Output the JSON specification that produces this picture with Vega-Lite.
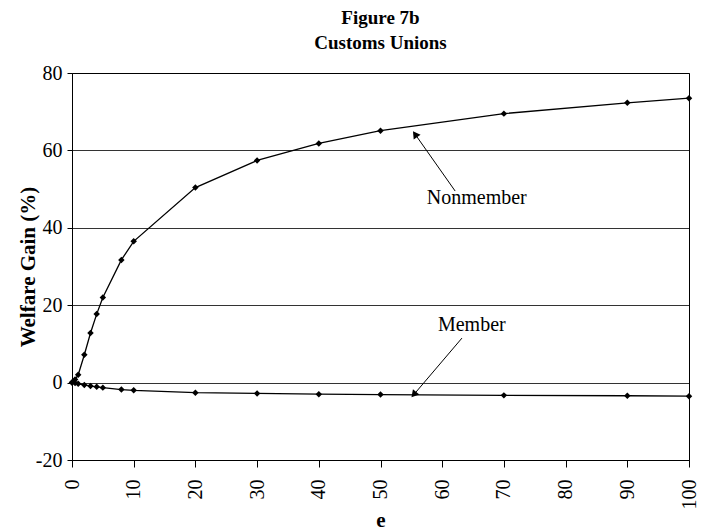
{
  "$schema": "https://vega.github.io/schema/vega-lite/v6.json",
  "autosize": "none",
  "width": 617,
  "height": 387,
  "padding": {"left": 72, "top": 73, "right": 23, "bottom": 71},
  "background": "white",
  "title": {
    "text": ["Figure 7b", "Customs Unions"],
    "font": "Liberation Serif",
    "fontSize": 19,
    "fontWeight": "bold",
    "lineHeight": 25,
    "anchor": "middle",
    "frame": "group",
    "offset": 10,
    "color": "black"
  },
  "config": {
    "view": {"stroke": "black", "strokeWidth": 1},
    "font": "Liberation Serif"
  },
  "datasets": {
    "series": [
      {"e": 0, "gain": 0, "series": "Nonmember"},
      {"e": 0.5, "gain": 0.8, "series": "Nonmember"},
      {"e": 1, "gain": 2.0, "series": "Nonmember"},
      {"e": 2, "gain": 7.2, "series": "Nonmember"},
      {"e": 3, "gain": 12.8, "series": "Nonmember"},
      {"e": 4, "gain": 17.7, "series": "Nonmember"},
      {"e": 5, "gain": 22.0, "series": "Nonmember"},
      {"e": 8, "gain": 31.7, "series": "Nonmember"},
      {"e": 10, "gain": 36.5, "series": "Nonmember"},
      {"e": 20, "gain": 50.4, "series": "Nonmember"},
      {"e": 30, "gain": 57.4, "series": "Nonmember"},
      {"e": 40, "gain": 61.8, "series": "Nonmember"},
      {"e": 50, "gain": 65.1, "series": "Nonmember"},
      {"e": 70, "gain": 69.5, "series": "Nonmember"},
      {"e": 90, "gain": 72.3, "series": "Nonmember"},
      {"e": 100, "gain": 73.5, "series": "Nonmember"},
      {"e": 0, "gain": 0, "series": "Member"},
      {"e": 0.5, "gain": -0.1, "series": "Member"},
      {"e": 1, "gain": -0.3, "series": "Member"},
      {"e": 2, "gain": -0.6, "series": "Member"},
      {"e": 3, "gain": -0.9, "series": "Member"},
      {"e": 4, "gain": -1.1, "series": "Member"},
      {"e": 5, "gain": -1.3, "series": "Member"},
      {"e": 8, "gain": -1.8, "series": "Member"},
      {"e": 10, "gain": -2.0, "series": "Member"},
      {"e": 20, "gain": -2.6, "series": "Member"},
      {"e": 30, "gain": -2.8, "series": "Member"},
      {"e": 40, "gain": -3.0, "series": "Member"},
      {"e": 50, "gain": -3.1, "series": "Member"},
      {"e": 70, "gain": -3.3, "series": "Member"},
      {"e": 90, "gain": -3.4, "series": "Member"},
      {"e": 100, "gain": -3.5, "series": "Member"}
    ],
    "labels": [
      {"e": 65.6, "gain": 47.8, "label": "Nonmember"},
      {"e": 64.8, "gain": 15.0, "label": "Member"}
    ],
    "arrows": [
      {"e": 62.1, "gain": 49.5, "e2": 55.6, "gain2": 64.2, "angle": 325},
      {"e": 63.2, "gain": 11.5, "e2": 55.4, "gain2": -3.1, "angle": 220}
    ]
  },
  "layer": [
    {
      "data": {"name": "series"},
      "mark": {"type": "line", "color": "black", "strokeWidth": 1.3,
               "point": {"filled": true, "shape": "diamond", "size": 42, "color": "black"}},
      "encoding": {
        "x": {"field": "e", "type": "quantitative",
              "scale": {"domain": [0, 100], "nice": false},
              "axis": {"title": "e", "values": [0,10,20,30,40,50,60,70,80,90,100],
                       "grid": false, "labelAngle": 270, "labelAlign": "right", "labelBaseline": "middle",
                       "labelFontSize": 20, "labelFont": "Liberation Serif", "labelColor": "black",
                       "titleFontSize": 21, "titleFont": "Liberation Serif", "titleFontWeight": "bold", "titleColor": "black",
                       "titlePadding": 0, "labelPadding": 12,
                       "domainColor": "black", "tickColor": "black", "tickSize": 7, "labelFlush": false}},
        "y": {"field": "gain", "type": "quantitative",
              "scale": {"domain": [-20, 80], "nice": false},
              "axis": {"title": "Welfare Gain (%)", "values": [-20,0,20,40,60,80],
                       "labelExpr": "datum.value",
                       "grid": true, "gridColor": "black", "gridWidth": 1, "gridOpacity": 0.8,
                       "labelFontSize": 20, "labelFont": "Liberation Serif", "labelColor": "black",
                       "titleFontSize": 21, "titleFont": "Liberation Serif", "titleFontWeight": "bold", "titleColor": "black",
                       "titlePadding": -3, "labelPadding": 5,
                       "domainColor": "black", "tickColor": "black", "tickSize": 5}},
        "detail": {"field": "series"}
      }
    },
    {
      "data": {"name": "arrows"},
      "mark": {"type": "rule", "color": "black", "strokeWidth": 1},
      "encoding": {
        "x": {"field": "e", "type": "quantitative"},
        "y": {"field": "gain", "type": "quantitative"},
        "x2": {"field": "e2"},
        "y2": {"field": "gain2"}
      }
    },
    {
      "data": {"name": "arrows"},
      "mark": {"type": "point", "shape": "triangle-up", "filled": true, "color": "black", "size": 70, "opacity": 1},
      "encoding": {
        "x": {"field": "e2", "type": "quantitative"},
        "y": {"field": "gain2", "type": "quantitative"},
        "angle": {"field": "angle", "type": "quantitative", "scale": null}
      }
    },
    {
      "data": {"name": "labels"},
      "mark": {"type": "text", "font": "Liberation Serif", "fontSize": 20, "color": "black", "align": "center", "baseline": "middle"},
      "encoding": {
        "x": {"field": "e", "type": "quantitative"},
        "y": {"field": "gain", "type": "quantitative"},
        "text": {"field": "label"}
      }
    }
  ]
}
